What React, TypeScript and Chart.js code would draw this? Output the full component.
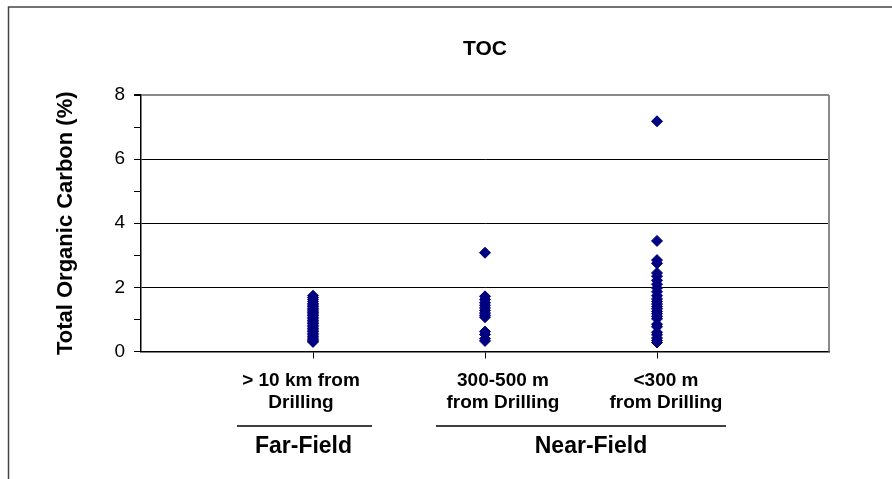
import React, { useEffect, useRef } from "react";
import { Chart, registerables } from "chart.js";

Chart.register(...registerables);

// ---- data ----
const categories = ["> 10 km from\nDrilling", "300-500 m\nfrom Drilling", "<300 m\nfrom Drilling"];
const groupNames = ["Far-Field", "Near-Field"];
const farField = [1.74, 1.68, 1.62, 1.56, 1.5, 1.45, 1.4, 1.35, 1.3, 1.26, 1.21, 1.17, 1.12, 1.07, 1.02, 0.97, 0.92, 0.87, 0.82, 0.77, 0.72, 0.67, 0.62, 0.57, 0.52, 0.47, 0.42, 0.37, 0.33, 0.3];
const near300to500 = [3.08, 1.72, 1.62, 1.52, 1.44, 1.36, 1.28, 1.2, 1.13, 1.07, 0.62, 0.53, 0.4, 0.33];
const nearUnder300 = [7.18, 3.45, 2.85, 2.75, 2.45, 2.35, 2.22, 2.1, 1.98, 1.86, 1.74, 1.64, 1.56, 1.48, 1.4, 1.33, 1.25, 1.18, 1.1, 1.02, 0.85, 0.77, 0.6, 0.52, 0.42, 0.34, 0.28];
const yTicks = [0, 2, 4, 6, 8];

// ---- layout constants (pixels) ----
const W = 892;
const H = 479;
const FONT = "'Liberation Sans', Arial, sans-serif";
const labelOffsets = [-12, 18, 9];
const groupSpans = [[237, 372], [436, 726]];
const groupCenters = [303.5, 591];

const overlay = {
  id: "overlay",
  beforeDraw(chart: any) {
    const ctx = chart.ctx;
    ctx.save();
    ctx.fillStyle = "#ffffff";
    ctx.fillRect(0, 0, W, H);
    ctx.strokeStyle = "#444444";
    ctx.lineWidth = 1.5;
    ctx.beginPath();
    ctx.moveTo(8.5, H + 2);
    ctx.lineTo(8.5, 7);
    ctx.lineTo(W + 2, 7);
    ctx.stroke();
    ctx.restore();
  },
  afterDraw(chart: any) {
    const ctx = chart.ctx;
    const area = chart.chartArea;
    const xs = chart.scales.x;
    ctx.save();
    // right plot border
    ctx.strokeStyle = "#8a8a8a";
    ctx.lineWidth = 2;
    ctx.beginPath();
    ctx.moveTo(area.right, area.top);
    ctx.lineTo(area.right, area.bottom);
    ctx.stroke();
    // title
    ctx.fillStyle = "#000";
    ctx.textAlign = "center";
    ctx.textBaseline = "middle";
    ctx.font = `bold 21px ${FONT}`;
    ctx.fillText("TOC", 485, 49);
    // category labels
    ctx.font = `bold 19px ${FONT}`;
    categories.forEach((c, i) => {
      const x = xs.getPixelForValue(i + 1) + labelOffsets[i];
      const lines = c.split("\n");
      lines.forEach((ln, j) => ctx.fillText(ln, x, 381 + j * 22));
    });
    // group lines
    ctx.strokeStyle = "#000";
    ctx.lineWidth = 1.5;
    groupSpans.forEach(([a, b]) => {
      ctx.beginPath();
      ctx.moveTo(a, 426);
      ctx.lineTo(b, 426);
      ctx.stroke();
    });
    ctx.font = `bold 23px ${FONT}`;
    groupNames.forEach((g, i) => ctx.fillText(g, groupCenters[i], 447));
    ctx.restore();
  },
};

export default function App() {
  const ref = useRef<HTMLCanvasElement>(null);
  useEffect(() => {
    document.body.style.margin = "0";
    const pts = (vals: number[], x: number) => vals.map((v) => ({ x, y: v }));
    const chart = new Chart(ref.current!, {
      type: "scatter",
      data: {
        datasets: [
          {
            data: [...pts(farField, 1), ...pts(near300to500, 2), ...pts(nearUnder300, 3)],
            pointStyle: "rectRot",
            pointRadius: 5.5,
            pointBackgroundColor: "#000080",
            pointBorderColor: "#000080",
            pointBorderWidth: 1,
          },
        ],
      },
      options: {
        animation: false,
        responsive: false,
        devicePixelRatio: 1,
        layout: { padding: { left: 0, top: 95, right: W - 829, bottom: 0 } },
        plugins: { legend: { display: false }, tooltip: { enabled: false }, title: { display: false } },
        scales: {
          x: {
            type: "linear",
            min: 0,
            max: 4,
            afterBuildTicks: (s: any) => {
              s.ticks = categories.map((_, i) => ({ value: i + 1 }));
            },
            afterFit: (s: any) => {
              s.height = H - 351.5;
            },
            ticks: { display: false },
            grid: { drawOnChartArea: false, drawTicks: true, tickLength: 7, color: "#000", lineWidth: 1 },
            border: { display: true, color: "#000", width: 1.5 },
          },
          y: {
            min: 0,
            max: 8,
            afterBuildTicks: (s: any) => {
              const t: any[] = [];
              for (let v = 0; v <= 8; v++) t.push({ value: v });
              s.ticks = t;
            },
            afterFit: (s: any) => {
              s.width = 141;
            },
            ticks: {
              padding: 9,
              color: "#000",
              font: { family: FONT, size: 19 },
              callback: (v: any) => (yTicks.includes(Number(v)) ? String(v) : ""),
            },
            grid: {
              drawTicks: true,
              tickLength: 7,
              color: (c: any) => {
                const v = c.tick ? c.tick.value : 0;
                if (v === 8) return "#8a8a8a";
                return v % 2 === 0 ? "#000" : "rgba(0,0,0,0)";
              },
              lineWidth: (c: any) => (c.tick && c.tick.value === 8 ? 2 : 1),
              tickColor: "#000",
            },
            border: { display: true, color: "#000", width: 1.5 },
            title: {
              display: true,
              text: "Total Organic Carbon (%)",
              color: "#000",
              font: { family: FONT, size: 22, weight: "bold" },
              padding: { top: 53, bottom: 0 },
            },
          },
        },
      },
      plugins: [overlay],
    });
    return () => chart.destroy();
  }, []);
  return <canvas ref={ref} width={W} height={H} style={{ display: "block", width: W, height: H }} />;
}
